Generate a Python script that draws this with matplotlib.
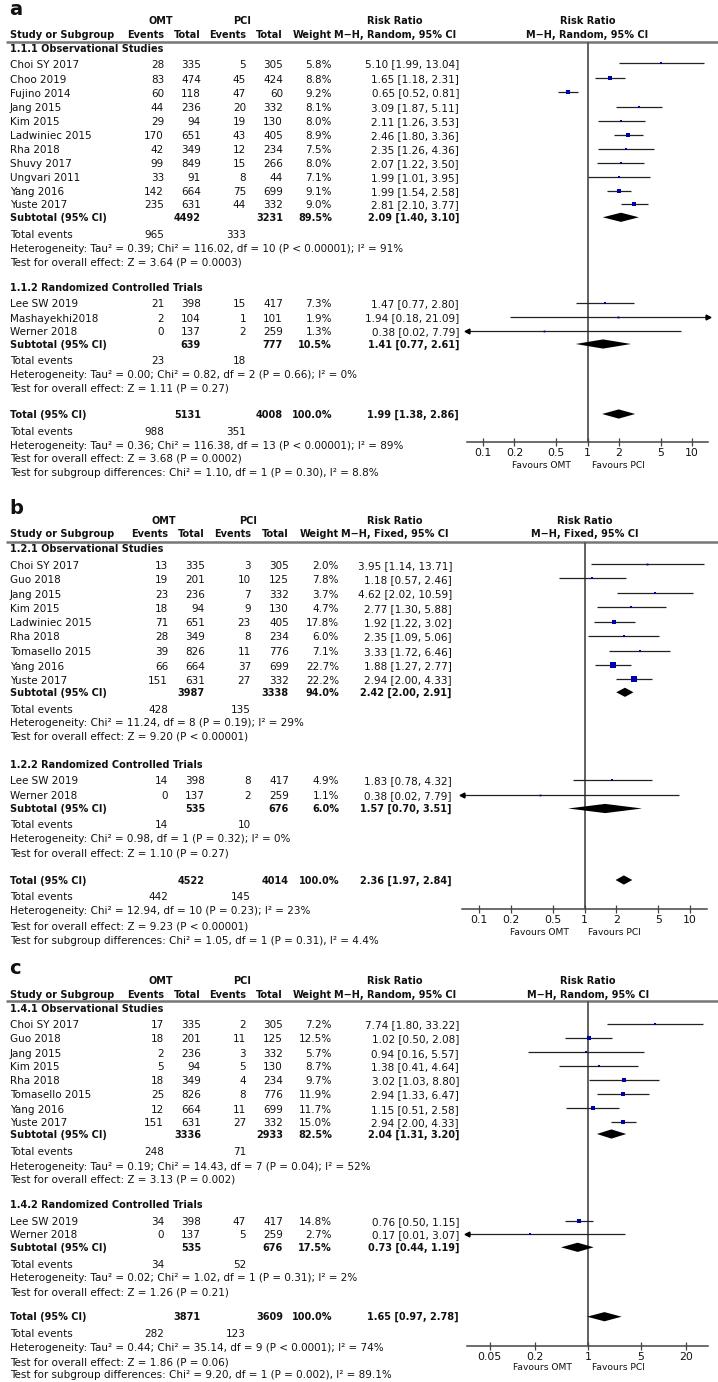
import matplotlib.pyplot as plt

plt.rcParams['font.family'] = 'DejaVu Sans'
FS = 7.5      # regular text
FSB = 7.0     # bold text

# ---------------- panel a (M-H, Random) ----------------
a_names = ['Choi SY 2017', 'Choo 2019', 'Fujino 2014', 'Jang 2015', 'Kim 2015', 'Ladwiniec 2015',
           'Rha 2018', 'Shuvy 2017', 'Ungvari 2011', 'Yang 2016', 'Yuste 2017',
           'Lee SW 2019', 'Mashayekhi2018', 'Werner 2018']
a_group = [0] * 11 + [1] * 3
a_omt_ev = [28, 83, 60, 44, 29, 170, 42, 99, 33, 142, 235, 21, 2, 0]
a_omt_tot = [335, 474, 118, 236, 94, 651, 349, 849, 91, 664, 631, 398, 104, 137]
a_pci_ev = [5, 45, 47, 20, 19, 43, 12, 15, 8, 75, 44, 15, 1, 2]
a_pci_tot = [305, 424, 60, 332, 130, 405, 234, 266, 44, 699, 332, 417, 101, 259]
a_weight = [5.8, 8.8, 9.2, 8.1, 8.0, 8.9, 7.5, 8.0, 7.1, 9.1, 9.0, 7.3, 1.9, 1.3]
a_rr = [5.10, 1.65, 0.65, 3.09, 2.11, 2.46, 2.35, 2.07, 1.99, 1.99, 2.81, 1.47, 1.94, 0.38]
a_lo = [1.99, 1.18, 0.52, 1.87, 1.26, 1.80, 1.26, 1.22, 1.01, 1.54, 2.10, 0.77, 0.18, 0.02]
a_hi = [13.04, 2.31, 0.81, 5.11, 3.53, 3.36, 4.36, 3.50, 3.95, 2.58, 3.77, 2.80, 21.09, 7.79]
a_sub_titles = ['1.1.1 Observational Studies', '1.1.2 Randomized Controlled Trials']
a_sub_omt_tot = [4492, 639]
a_sub_pci_tot = [3231, 777]
a_sub_weight = [89.5, 10.5]
a_sub_rr = [2.09, 1.41]
a_sub_lo = [1.40, 0.77]
a_sub_hi = [3.10, 2.61]
a_sub_omt_ev = [965, 23]
a_sub_pci_ev = [333, 18]
a_sub_het = ['Heterogeneity: Tau² = 0.39; Chi² = 116.02, df = 10 (P < 0.00001); I² = 91%',
             'Heterogeneity: Tau² = 0.00; Chi² = 0.82, df = 2 (P = 0.66); I² = 0%']
a_sub_test = ['Test for overall effect: Z = 3.64 (P = 0.0003)',
              'Test for overall effect: Z = 1.11 (P = 0.27)']
a_total = [5131, 4008, 100.0, 1.99, 1.38, 2.86]
a_total_ev = [988, 351]
a_total_txt = ['Heterogeneity: Tau² = 0.36; Chi² = 116.38, df = 13 (P < 0.00001); I² = 89%',
               'Test for overall effect: Z = 3.68 (P = 0.0002)',
               'Test for subgroup differences: Chi² = 1.10, df = 1 (P = 0.30), I² = 8.8%']
a_ticks = [0.1, 0.2, 0.5, 1, 2, 5, 10]

# ---------------- panel b (M-H, Fixed) ----------------
b_names = ['Choi SY 2017', 'Guo 2018', 'Jang 2015', 'Kim 2015', 'Ladwiniec 2015', 'Rha 2018',
           'Tomasello 2015', 'Yang 2016', 'Yuste 2017', 'Lee SW 2019', 'Werner 2018']
b_group = [0] * 9 + [1] * 2
b_omt_ev = [13, 19, 23, 18, 71, 28, 39, 66, 151, 14, 0]
b_omt_tot = [335, 201, 236, 94, 651, 349, 826, 664, 631, 398, 137]
b_pci_ev = [3, 10, 7, 9, 23, 8, 11, 37, 27, 8, 2]
b_pci_tot = [305, 125, 332, 130, 405, 234, 776, 699, 332, 417, 259]
b_weight = [2.0, 7.8, 3.7, 4.7, 17.8, 6.0, 7.1, 22.7, 22.2, 4.9, 1.1]
b_rr = [3.95, 1.18, 4.62, 2.77, 1.92, 2.35, 3.33, 1.88, 2.94, 1.83, 0.38]
b_lo = [1.14, 0.57, 2.02, 1.30, 1.22, 1.09, 1.72, 1.27, 2.00, 0.78, 0.02]
b_hi = [13.71, 2.46, 10.59, 5.88, 3.02, 5.06, 6.46, 2.77, 4.33, 4.32, 7.79]
b_sub_titles = ['1.2.1 Observational Studies', '1.2.2 Randomized Controlled Trials']
b_sub_omt_tot = [3987, 535]
b_sub_pci_tot = [3338, 676]
b_sub_weight = [94.0, 6.0]
b_sub_rr = [2.42, 1.57]
b_sub_lo = [2.00, 0.70]
b_sub_hi = [2.91, 3.51]
b_sub_omt_ev = [428, 14]
b_sub_pci_ev = [135, 10]
b_sub_het = ['Heterogeneity: Chi² = 11.24, df = 8 (P = 0.19); I² = 29%',
             'Heterogeneity: Chi² = 0.98, df = 1 (P = 0.32); I² = 0%']
b_sub_test = ['Test for overall effect: Z = 9.20 (P < 0.00001)',
              'Test for overall effect: Z = 1.10 (P = 0.27)']
b_total = [4522, 4014, 100.0, 2.36, 1.97, 2.84]
b_total_ev = [442, 145]
b_total_txt = ['Heterogeneity: Chi² = 12.94, df = 10 (P = 0.23); I² = 23%',
               'Test for overall effect: Z = 9.23 (P < 0.00001)',
               'Test for subgroup differences: Chi² = 1.05, df = 1 (P = 0.31), I² = 4.4%']
b_ticks = [0.1, 0.2, 0.5, 1, 2, 5, 10]

# ---------------- panel c (M-H, Random) ----------------
c_names = ['Choi SY 2017', 'Guo 2018', 'Jang 2015', 'Kim 2015', 'Rha 2018', 'Tomasello 2015',
           'Yang 2016', 'Yuste 2017', 'Lee SW 2019', 'Werner 2018']
c_group = [0] * 8 + [1] * 2
c_omt_ev = [17, 18, 2, 5, 18, 25, 12, 151, 34, 0]
c_omt_tot = [335, 201, 236, 94, 349, 826, 664, 631, 398, 137]
c_pci_ev = [2, 11, 3, 5, 4, 8, 11, 27, 47, 5]
c_pci_tot = [305, 125, 332, 130, 234, 776, 699, 332, 417, 259]
c_weight = [7.2, 12.5, 5.7, 8.7, 9.7, 11.9, 11.7, 15.0, 14.8, 2.7]
c_rr = [7.74, 1.02, 0.94, 1.38, 3.02, 2.94, 1.15, 2.94, 0.76, 0.17]
c_lo = [1.80, 0.50, 0.16, 0.41, 1.03, 1.33, 0.51, 2.00, 0.50, 0.01]
c_hi = [33.22, 2.08, 5.57, 4.64, 8.80, 6.47, 2.58, 4.33, 1.15, 3.07]
c_sub_titles = ['1.4.1 Observational Studies', '1.4.2 Randomized Controlled Trials']
c_sub_omt_tot = [3336, 535]
c_sub_pci_tot = [2933, 676]
c_sub_weight = [82.5, 17.5]
c_sub_rr = [2.04, 0.73]
c_sub_lo = [1.31, 0.44]
c_sub_hi = [3.20, 1.19]
c_sub_omt_ev = [248, 34]
c_sub_pci_ev = [71, 52]
c_sub_het = ['Heterogeneity: Tau² = 0.19; Chi² = 14.43, df = 7 (P = 0.04); I² = 52%',
             'Heterogeneity: Tau² = 0.02; Chi² = 1.02, df = 1 (P = 0.31); I² = 2%']
c_sub_test = ['Test for overall effect: Z = 3.13 (P = 0.002)',
              'Test for overall effect: Z = 1.26 (P = 0.21)']
c_total = [3871, 3609, 100.0, 1.65, 0.97, 2.78]
c_total_ev = [282, 123]
c_total_txt = ['Heterogeneity: Tau² = 0.44; Chi² = 35.14, df = 9 (P < 0.0001); I² = 74%',
               'Test for overall effect: Z = 1.86 (P = 0.06)',
               'Test for subgroup differences: Chi² = 9.20, df = 1 (P = 0.002), I² = 89.1%']
c_ticks = [0.05, 0.2, 1, 5, 20]

W, H = 718, 1382
fig = plt.figure(figsize=(W / 100, H / 100), dpi=100)
bg = fig.add_axes([0, 0, 1, 1])
bg.set_xlim(0, W)
bg.set_ylim(H, 0)
bg.axis('off')

INK = '#111111'
BLUE = '#0000a8'


def txt(x, y, s, ha='left', bold=False, size=None):
    if size is None:
        size = FSB if bold else FS
    bg.text(x, y + 3.5, s, ha=ha, va='baseline', fontsize=size,
            fontweight='bold' if bold else 'normal', color=INK)


def ci_str(r, lo, hi):
    return f'{r:.2f} [{lo:.2f}, {hi:.2f}]'


def draw_panel(label, method, d, lay):
    cols = lay['cols']
    bg.text(9, lay['label_y'], label, fontsize=14, fontweight='bold', va='baseline', color=INK)
    txt(lay['omt_x'], lay['omt_y'], 'OMT', ha='center', bold=True)
    txt(lay['pci_x'], lay['omt_y'], 'PCI', ha='center', bold=True)
    txt(lay['rr_x'], lay['omt_y'], 'Risk Ratio', ha='center', bold=True)
    txt(lay['f1'], lay['omt_y'], 'Risk Ratio', ha='center', bold=True)
    txt(10, lay['hdr_y'], 'Study or Subgroup', bold=True)
    for x, s in zip(cols, ['Events', 'Total', 'Events', 'Total', 'Weight']):
        txt(x, lay['hdr_y'], s, ha='right', bold=True)
    txt(lay['rr_x'], lay['hdr_y'], method, ha='center', bold=True)
    txt(lay['f1'], lay['hdr_y'], method, ha='center', bold=True)
    bg.plot([6, W], [lay['line_y']] * 2, color='#777777', lw=1.8, solid_capstyle='butt')

    # forest axes, y measured in pixel rows so marks line up with the text
    x0, x1, y0, y1 = lay['fx0'], lay['fx1'], lay['line_y'], lay['axis_y']
    ax = fig.add_axes([x0 / W, 1 - y1 / H, (x1 - x0) / W, (y1 - y0) / H])
    ax.set_xscale('log')
    lim = (10 ** ((x0 - lay['f1']) / lay['dec']), 10 ** ((x1 - lay['f1']) / lay['dec']))
    ax.set_xlim(*lim)
    ax.set_ylim(y1, y0)
    ax.patch.set_alpha(0)
    for s in ['top', 'left', 'right']:
        ax.spines[s].set_visible(False)
    ax.spines['bottom'].set_color('#444444')
    ax.spines['bottom'].set_linewidth(1.1)
    ax.set_yticks([])
    ax.minorticks_off()
    ax.set_xticks(d['ticks'], [f'{t:g}' for t in d['ticks']])
    ax.tick_params(axis='x', direction='inout', length=6, width=0.9, color='#444444',
                   labelsize=7.8, pad=1.0, labelcolor=INK)
    ax.axvline(1, color='#555555', lw=1.3, zorder=1)

    def diamond(y, r, lo, hi):
        h = 4.6
        ax.fill([lo, r, hi, r], [y, y - h, y, y + h], color='black', lw=0, zorder=3)

    idx = 0
    for g in range(2):
        txt(10, lay['title_y'][g], d['sub_titles'][g], bold=True)
        for i, grp in enumerate(d['group']):
            if grp != g:
                continue
            y = lay['study_y'][idx]
            idx += 1
            txt(10, y, d['names'][i])
            vals = [d['omt_ev'][i], d['omt_tot'][i], d['pci_ev'][i], d['pci_tot'][i]]
            for x, v in zip(cols[:4], vals):
                txt(x, y, str(v), ha='right')
            txt(cols[4], y, f"{d['weight'][i]:.1f}%", ha='right')
            txt(lay['ci_x'], y, ci_str(d['rr'][i], d['lo'][i], d['hi'][i]), ha='right')
            ym = y - 1
            ax.hlines(ym, d['lo'][i], d['hi'][i], color='#222222', lw=0.9, zorder=2)
            if d['lo'][i] < lim[0]:
                ax.plot([lim[0]], [ym], marker='<', ms=3.5, color='black', clip_on=False, zorder=3)
            if d['hi'][i] > lim[1]:
                ax.plot([lim[1]], [ym], marker='>', ms=3.5, color='black', clip_on=False, zorder=3)
            side = 1.6 + 0.16 * d['weight'][i]
            ax.plot([d['rr'][i]], [ym], marker='s', ms=side * 0.72, color=BLUE, mew=0, zorder=4)
        y = lay['sub_y'][g]
        txt(10, y, 'Subtotal (95% CI)', bold=True)
        txt(cols[1], y, str(d['sub_omt_tot'][g]), ha='right', bold=True)
        txt(cols[3], y, str(d['sub_pci_tot'][g]), ha='right', bold=True)
        txt(cols[4], y, f"{d['sub_weight'][g]:.1f}%", ha='right', bold=True)
        txt(lay['ci_x'], y, ci_str(d['sub_rr'][g], d['sub_lo'][g], d['sub_hi'][g]), ha='right', bold=True)
        diamond(y, d['sub_rr'][g], d['sub_lo'][g], d['sub_hi'][g])
        y = lay['totev_y'][g]
        txt(10, y, 'Total events')
        txt(cols[0], y, str(d['sub_omt_ev'][g]), ha='right')
        txt(cols[2], y, str(d['sub_pci_ev'][g]), ha='right')
        txt(10, lay['het_y'][g], d['sub_het'][g])
        txt(10, lay['test_y'][g], d['sub_test'][g])

    tot = d['total']
    y = lay['total_y']
    txt(10, y, 'Total (95% CI)', bold=True)
    txt(cols[1], y, str(tot[0]), ha='right', bold=True)
    txt(cols[3], y, str(tot[1]), ha='right', bold=True)
    txt(cols[4], y, f'{tot[2]:.1f}%', ha='right', bold=True)
    txt(lay['ci_x'], y, ci_str(tot[3], tot[4], tot[5]), ha='right', bold=True)
    diamond(y, tot[3], tot[4], tot[5])
    y = lay['tail_y'][0]
    txt(10, y, 'Total events')
    txt(cols[0], y, str(d['total_ev'][0]), ha='right')
    txt(cols[2], y, str(d['total_ev'][1]), ha='right')
    for s, yy in zip(d['total_txt'], lay['tail_y'][1:]):
        txt(10, yy, s)
    txt(lay['f1'] - 16, lay['fav_y'], 'Favours OMT', ha='right', size=6.6)
    txt(lay['f1'] + 4, lay['fav_y'], 'Favours PCI', ha='left', size=6.6)


def pack(p):
    g = globals()
    keys = ['names', 'group', 'omt_ev', 'omt_tot', 'pci_ev', 'pci_tot', 'weight', 'rr', 'lo', 'hi',
            'sub_titles', 'sub_omt_tot', 'sub_pci_tot', 'sub_weight', 'sub_rr', 'sub_lo', 'sub_hi',
            'sub_omt_ev', 'sub_pci_ev', 'sub_het', 'sub_test', 'total', 'total_ev', 'total_txt', 'ticks']
    return {k: g[f'{p}_{k}'] for k in keys}


lay_a = dict(label_y=15, omt_y=20, hdr_y=34, line_y=42,
             cols=[164, 201, 246, 283, 332], ci_x=459, rr_x=395, omt_x=161, pci_x=242,
             fx0=467, fx1=708, f1=587.5, dec=104.5, axis_y=442, fav_y=464,
             title_y=[48, 287.3],
             study_y=[64, 79, 93, 107.5, 121.5, 135.5, 149.5, 163.5, 177.5, 191.5, 204.5,
                      303.5, 318, 331.7],
             sub_y=[217.3, 344], totev_y=[234.7, 360], het_y=[248.3, 374], test_y=[261.5, 387.7],
             total_y=414, tail_y=[431, 445, 458.3, 472.3])

lay_b = dict(label_y=514, omt_y=520, hdr_y=533.3, line_y=541.7,
             cols=[168, 205, 251, 289, 339], ci_x=452, rr_x=395, omt_x=164, pci_x=248,
             fx0=462, fx1=707, f1=584.5, dec=105.5, axis_y=909, fav_y=931,
             title_y=[548.3, 764],
             study_y=[565.3, 579.3, 594, 608.3, 622.7, 636.7, 651.7, 666, 680, 780.7, 795.7],
             sub_y=[692.3, 808.5], totev_y=[709, 824.3], het_y=[722.3, 838.3], test_y=[736, 852.7],
             total_y=880, tail_y=[896.7, 910.7, 925.7, 940])

lay_c = dict(label_y=974, omt_y=980, hdr_y=994, line_y=1001,
             cols=[164, 201, 246, 283, 332], ci_x=459, rr_x=395, omt_x=161, pci_x=242,
             fx0=467, fx1=708, f1=588, dec=75.7, axis_y=1346, fav_y=1366.7,
             title_y=[1008.7, 1204.3],
             study_y=[1025, 1039, 1053.3, 1066.7, 1081, 1095, 1109.3, 1122.7, 1221.7, 1235],
             sub_y=[1134, 1247.3], totev_y=[1151.7, 1264.3], het_y=[1166, 1277.7],
             test_y=[1179.3, 1291.7],
             total_y=1316.7, tail_y=[1333.3, 1347.3, 1361.7, 1375])

draw_panel('a', 'M\u2212H, Random, 95% CI', pack('a'), lay_a)
draw_panel('b', 'M\u2212H, Fixed, 95% CI', pack('b'), lay_b)
draw_panel('c', 'M\u2212H, Random, 95% CI', pack('c'), lay_c)

fig.savefig('out.png', dpi=100)
